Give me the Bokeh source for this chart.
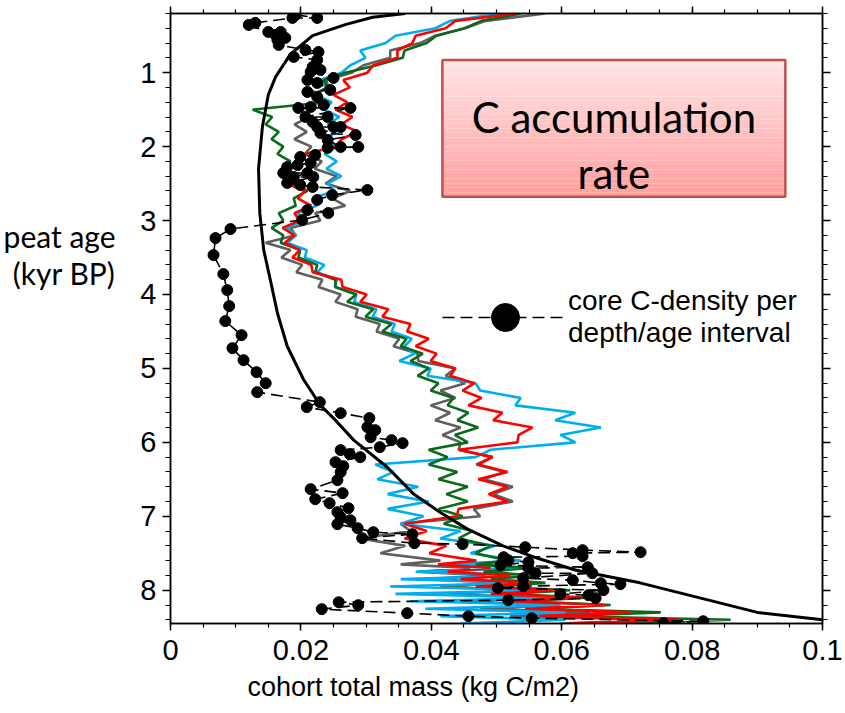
from bokeh.plotting import figure
from bokeh.models import (Range1d, LinearAxis, FixedTicker, Label, BoxAnnotation,
                          Legend, LegendItem, CustomJSTickFormatter, Title)
from bokeh.embed import file_html
from bokeh.resources import INLINE

# ---------------- data ----------------
# peat age (kyr BP) shared by the four modelled series
age = [0.2, 0.3, 0.4, 0.5, 0.6, 0.7, 0.8, 0.9,
       1.0, 1.1, 1.2, 1.3, 1.4, 1.5, 1.6, 1.7, 1.8, 1.9,
       2.0, 2.1, 2.2, 2.3, 2.4, 2.5, 2.6, 2.7, 2.8, 2.9,
       3.0, 3.1, 3.2, 3.3, 3.4, 3.5, 3.6, 3.7, 3.8, 3.9,
       4.0, 4.1, 4.2, 4.3, 4.4, 4.5, 4.6, 4.7, 4.8, 4.9,
       5.0, 5.1, 5.2, 5.3, 5.4, 5.5, 5.6, 5.7, 5.8, 5.9,
       6.0, 6.1, 6.2, 6.3, 6.4, 6.5, 6.6, 6.7, 6.8, 6.9,
       7.0, 7.1, 7.2, 7.3, 7.4, 7.5, 7.6,
       7.65, 7.7, 7.75, 7.8, 7.85, 7.9, 7.95, 8.0, 8.05, 8.1, 8.15, 8.2, 8.25, 8.3, 8.35, 8.4, 8.45]

gray_mass = [0.0575, 0.0483, 0.0452, 0.0406, 0.0383, 0.0337, 0.0337, 0.0296,
             0.0278, 0.0239, 0.0242, 0.0216, 0.0227, 0.0201, 0.0213, 0.0190, 0.0209, 0.0190,
             0.0216, 0.0206, 0.0232, 0.0221, 0.0255, 0.0238, 0.0276, 0.0248, 0.0268, 0.0222,
             0.0230, 0.0184, 0.0192, 0.0146, 0.0184, 0.0170, 0.0202, 0.0193, 0.0233, 0.0227,
             0.0261, 0.0253, 0.0287, 0.0284, 0.0321, 0.0316, 0.0351, 0.0342, 0.0379, 0.0380,
             0.0437, 0.0422, 0.0452, 0.0414, 0.0437, 0.0399, 0.0429, 0.0406, 0.0445, 0.0417,
             0.0445, 0.0442, 0.0494, 0.0469, 0.0512, 0.0480, 0.0525, 0.0495, 0.0525, 0.0465,
             0.0475, 0.0353, 0.0368, 0.0291, 0.0360, 0.0322, 0.0414,
             0.0353, 0.0460, 0.0380, 0.0483, 0.0394, 0.0514, 0.0414, 0.0537, 0.0426, 0.0560,
             0.0448, 0.0590, 0.0475, 0.0644, 0.0521, 0.0736, 0.0598]

cyan_mass = [0.0506, 0.0429, 0.0406, 0.0345, 0.0330, 0.0291, 0.0299, 0.0276,
             0.0262, 0.0229, 0.0239, 0.0224, 0.0247, 0.0236, 0.0259, 0.0241, 0.0255, 0.0236,
             0.0255, 0.0236, 0.0255, 0.0239, 0.0262, 0.0241, 0.0252, 0.0218, 0.0224, 0.0195,
             0.0204, 0.0178, 0.0193, 0.0179, 0.0209, 0.0206, 0.0236, 0.0225, 0.0255, 0.0252,
             0.0285, 0.0282, 0.0316, 0.0310, 0.0344, 0.0339, 0.0370, 0.0359, 0.0374, 0.0351,
             0.0399, 0.0394, 0.0468, 0.0475, 0.0537, 0.0529, 0.0621, 0.0590, 0.0660, 0.0598,
             0.0621, 0.0491, 0.0468, 0.0314, 0.0342, 0.0317, 0.0380, 0.0333, 0.0396, 0.0333,
             0.0388, 0.0353, 0.0445, 0.0414, 0.0498, 0.0460, 0.0537,
             0.0422, 0.0560, 0.0376, 0.0552, 0.0353, 0.0552, 0.0337, 0.0567, 0.0345, 0.0583,
             0.0368, 0.0598, 0.0391, 0.0606, 0.0414, 0.0606, 0.0445]

green_mass = [0.0538, 0.0477, 0.0451, 0.0408, 0.0393, 0.0359, 0.0356, 0.0316,
              0.0268, 0.0235, 0.0241, 0.0219, 0.0238, 0.0126, 0.0156, 0.0146, 0.0166, 0.0155,
              0.0173, 0.0164, 0.0184, 0.0173, 0.0195, 0.0189, 0.0210, 0.0189, 0.0192, 0.0166,
              0.0173, 0.0155, 0.0173, 0.0169, 0.0199, 0.0196, 0.0225, 0.0222, 0.0253, 0.0253,
              0.0285, 0.0271, 0.0311, 0.0299, 0.0339, 0.0325, 0.0362, 0.0353, 0.0387, 0.0368,
              0.0396, 0.0379, 0.0411, 0.0399, 0.0434, 0.0425, 0.0457, 0.0440, 0.0472, 0.0436,
              0.0456, 0.0396, 0.0425, 0.0396, 0.0440, 0.0411, 0.0456, 0.0423, 0.0456, 0.0411,
              0.0448, 0.0419, 0.0463, 0.0442, 0.0491, 0.0468, 0.0517,
              0.0468, 0.0552, 0.0480, 0.0560, 0.0491, 0.0575, 0.0495, 0.0613, 0.0517, 0.0637,
              0.0544, 0.0675, 0.0560, 0.0752, 0.0598, 0.0859, 0.0690]

red_mass = [0.0529, 0.0437, 0.0422, 0.0376, 0.0371, 0.0348, 0.0348, 0.0311,
            0.0302, 0.0265, 0.0275, 0.0250, 0.0271, 0.0253, 0.0279, 0.0262, 0.0287, 0.0262,
            0.0255, 0.0206, 0.0201, 0.0175, 0.0193, 0.0178, 0.0206, 0.0195, 0.0216, 0.0190,
            0.0198, 0.0172, 0.0190, 0.0175, 0.0198, 0.0187, 0.0216, 0.0218, 0.0262, 0.0264,
            0.0301, 0.0291, 0.0334, 0.0325, 0.0368, 0.0363, 0.0396, 0.0376, 0.0408, 0.0399,
            0.0437, 0.0429, 0.0466, 0.0448, 0.0477, 0.0457, 0.0509, 0.0495, 0.0555, 0.0534,
            0.0532, 0.0442, 0.0494, 0.0472, 0.0517, 0.0472, 0.0517, 0.0488, 0.0517, 0.0442,
            0.0439, 0.0359, 0.0393, 0.0359, 0.0423, 0.0397, 0.0469,
            0.0410, 0.0491, 0.0425, 0.0521, 0.0445, 0.0552, 0.0468, 0.0590, 0.0491, 0.0629,
            0.0521, 0.0667, 0.0544, 0.0706, 0.0567, 0.0782, 0.0613]

# smooth black curve
curve_age = [0.2, 0.25, 0.35, 0.5, 0.75, 1.06, 1.3, 1.73, 2.3, 2.9, 3.4, 3.8, 4.25, 4.7,
             5.15, 5.5, 5.7, 5.97, 6.34, 6.7, 6.95, 7.17, 7.4, 7.55, 7.73, 7.9, 8.13, 8.3, 8.4]
curve_mass = [0.0360, 0.0310, 0.0268, 0.0218, 0.0184, 0.0161, 0.0150, 0.0141, 0.0135, 0.0137,
              0.0143, 0.0153, 0.0164, 0.0179, 0.0204, 0.0230, 0.0253, 0.0281, 0.0333, 0.0373,
              0.0414, 0.0455, 0.0510, 0.0557, 0.0622, 0.0720, 0.0824, 0.0900, 0.1000]

# core C-density per depth/age interval (black dots)
core_age = [0.219, 0.260, 0.260, 0.327, 0.354, 0.449, 0.449, 0.490, 0.530, 0.557,
            0.625, 0.693, 0.720, 0.787, 0.828, 0.923, 0.963, 0.990, 1.071, 1.098,
            1.139, 1.234, 1.261, 1.329, 1.437, 1.464, 1.477, 1.477, 1.599, 1.599,
            1.667, 1.735, 1.735, 1.735, 1.816, 1.843, 1.910, 2.005, 2.005, 2.018,
            2.113, 2.140, 2.222, 2.249, 2.276, 2.357, 2.357, 2.411, 2.411, 2.492,
            2.519, 2.546, 2.587, 2.655, 2.722, 2.858, 2.898, 2.993, 3.115, 3.237,
            3.467, 3.724, 3.941, 4.157, 4.360, 4.550, 4.726, 4.888, 5.051, 5.200,
            5.321, 5.456, 5.523, 5.605, 5.672, 5.794, 5.835, 5.930, 5.970, 6.011,
            6.065, 6.105, 6.159, 6.200, 6.268, 6.322, 6.403, 6.511, 6.633, 6.687,
            6.768, 6.822, 6.890, 6.944, 7.012, 7.053, 7.107, 7.161, 7.215, 7.242,
            7.296, 7.364, 7.377, 7.418, 7.458, 7.485, 7.499, 7.539, 7.553, 7.594,
            7.621, 7.662, 7.689, 7.702, 7.770, 7.770, 7.837, 7.864, 7.905, 7.918,
            7.945, 7.972, 7.999, 8.053, 8.067, 8.107, 8.134, 8.162, 8.202, 8.256,
            8.310, 8.351, 8.378, 8.419, 8.446]
core_mass = [0.0192, 0.0225, 0.0187, 0.0130, 0.0120, 0.0150, 0.0169, 0.0161, 0.0176, 0.0164,
             0.0166, 0.0207, 0.0227, 0.0189, 0.0225, 0.0218, 0.0230, 0.0215, 0.0250, 0.0210,
             0.0225, 0.0245, 0.0210, 0.0225, 0.0235, 0.0215, 0.0196, 0.0276, 0.0207, 0.0241,
             0.0218, 0.0225, 0.0250, 0.0261, 0.0230, 0.0284, 0.0241, 0.0261, 0.0288, 0.0241,
             0.0222, 0.0199, 0.0215, 0.0195, 0.0179, 0.0173, 0.0210, 0.0189, 0.0219, 0.0179,
             0.0199, 0.0218, 0.0302, 0.0248, 0.0225, 0.0210, 0.0242, 0.0202, 0.0092, 0.0069,
             0.0066, 0.0081, 0.0087, 0.0090, 0.0084, 0.0109, 0.0095, 0.0112, 0.0132, 0.0146,
             0.0133, 0.0229, 0.0209, 0.0261, 0.0305, 0.0302, 0.0314, 0.0307, 0.0339, 0.0356,
             0.0321, 0.0261, 0.0275, 0.0291, 0.0253, 0.0265, 0.0261, 0.0256, 0.0215, 0.0264,
             0.0222, 0.0244, 0.0273, 0.0256, 0.0261, 0.0276, 0.0256, 0.0287, 0.0311, 0.0371,
             0.0294, 0.0374, 0.0448, 0.0544, 0.0632, 0.0721, 0.0617, 0.0632, 0.0511, 0.0518,
             0.0549, 0.0506, 0.0640, 0.0549, 0.0560, 0.0647, 0.0541, 0.0617, 0.0660, 0.0690,
             0.0541, 0.0502, 0.0664, 0.0598, 0.0641, 0.0652, 0.0518, 0.0258, 0.0288, 0.0232,
             0.0363, 0.0457, 0.0554, 0.0817, 0.0756]

x_tick_values = [0, 0.02, 0.04, 0.06, 0.08, 0.1]
x_tick_labels = ["0", "0.02", "0.04", "0.06", "0.08", "0.1"]
y_tick_values = [1, 2, 3, 4, 5, 6, 7, 8]
y_tick_labels = ["1", "2", "3", "4", "5", "6", "7", "8"]
# the two lines of the (horizontal) y-axis title, placed at these ages
y_title_ages = [3.21, 3.71]
y_title_lines = ["peat age", "(kyr BP)"]

# ---------------- styling ----------------
ARIAL = "'Liberation Sans', Arial, sans-serif"
CAL = "Lato, 'Open Sans', sans-serif"

p = figure(width=845, height=713, output_backend="svg", toolbar_location=None,
           x_range=Range1d(0, 0.1), y_range=Range1d(8.45, 0.2),
           x_axis_location=None, y_axis_location=None,
           min_border_left=170, min_border_right=23, min_border_top=13,
           min_border_bottom=90, background_fill_color="white",
           border_fill_color="white")
p.grid.visible = False
p.outline_line_color = "black"
p.outline_line_width = 1.5

x_minor = [round(0.005 * i, 3) for i in range(21)]
y_minor = [round(0.2 * i, 1) for i in range(1, 43)]


def make_axis(ticks, minor, labels, show, tick_major, tick_minor):
    ax = LinearAxis(ticker=FixedTicker(ticks=ticks, minor_ticks=minor))
    ax.axis_line_color = "black"
    ax.axis_line_width = 1.5
    ax.major_tick_line_color = "black"
    ax.major_tick_line_width = 1.5
    ax.minor_tick_line_color = "black"
    ax.minor_tick_line_width = 1.2
    ax.major_tick_in = 0
    ax.minor_tick_in = 0
    ax.major_tick_out = tick_major
    ax.minor_tick_out = tick_minor
    if show:
        ax.major_label_overrides = dict(zip(ticks, labels))
        ax.major_label_text_font = ARIAL
        ax.major_label_text_font_size = "29px"
        ax.major_label_text_color = "black"
    else:
        ax.formatter = CustomJSTickFormatter(code="return ''")
        ax.major_label_text_font_size = "1px"
        ax.major_label_standoff = 0
    return ax


bottom = make_axis(x_tick_values, x_minor, x_tick_labels, True, 7, 4)
bottom.major_label_standoff = 9
top = make_axis(x_tick_values, x_minor, x_tick_labels, False, 7, 4)
left = make_axis(y_tick_values, y_minor, y_tick_labels, True, 8, 5)
left.major_label_standoff = 6
right = make_axis(y_tick_values, y_minor, y_tick_labels, False, 8, 5)
p.add_layout(bottom, "below")
p.add_layout(top, "above")
p.add_layout(left, "left")
p.add_layout(right, "right")

# horizontal two-line y-axis title, as an outer label-only axis
ytitle = LinearAxis(ticker=FixedTicker(ticks=y_title_ages, minor_ticks=[]))
ytitle.major_label_overrides = dict(zip(y_title_ages, y_title_lines))
ytitle.axis_line_color = None
ytitle.major_tick_line_color = None
ytitle.minor_tick_line_color = None
ytitle.major_tick_out = 0
ytitle.major_tick_in = 0
ytitle.major_label_standoff = 22
ytitle.major_label_text_font = CAL
ytitle.major_label_text_font_size = "30px"
ytitle.major_label_text_color = "black"
p.add_layout(ytitle, "left")

# x-axis title (offset to the left as in the reference)
p.add_layout(Title(text="cohort total mass (kg C/m2)", align="left", offset=77,
                   text_font=ARIAL, text_font_size="27px", text_font_style="normal",
                   text_color="black", standoff=15), "below")

# ---- text box with gradient ----
box_left, box_right, box_top, box_bottom = 0.0417, 0.0943, 0.828, 2.68
nb = 30
c0, c1 = (255, 228, 228), (255, 160, 160)
for i in range(nb):
    f = i / (nb - 1)
    col = "#%02x%02x%02x" % tuple(int(round(a + (b - a) * f)) for a, b in zip(c0, c1))
    y0 = box_top + (box_bottom - box_top) * i / nb
    y1 = box_top + (box_bottom - box_top) * (i + 1) / nb
    p.add_layout(BoxAnnotation(left=box_left, right=box_right, top=y0, bottom=y1,
                               fill_color=col, fill_alpha=1.0, line_color=None,
                               level="underlay"))
p.add_layout(BoxAnnotation(left=box_left, right=box_right, top=box_top, bottom=box_bottom,
                           fill_color=None, fill_alpha=0, line_color="#C0504D",
                           line_width=2.5, line_alpha=1.0, level="underlay"))
p.add_layout(Label(x=0.0680, y=1.60, text="C accumulation", text_align="center",
                   text_baseline="alphabetic", text_font=CAL, text_font_size="42px",
                   text_color="black"))
p.add_layout(Label(x=0.0680, y=2.357, text="rate", text_align="center",
                   text_baseline="alphabetic", text_font=CAL, text_font_size="42px",
                   text_color="black"))

# ---- series ----
p.line(gray_mass, age, line_color="#5f5f5f", line_width=2.6)
p.line(cyan_mass, age, line_color="#00aeef", line_width=2.6)
p.line(green_mass, age, line_color="#0a6a1a", line_width=2.6)
p.line(red_mass, age, line_color="#ff0000", line_width=2.6)
p.line(curve_mass, curve_age, line_color="black", line_width=3)
conn = p.line(core_mass, core_age, line_color="black", line_width=1.6, line_dash="12 6")
dots = p.scatter(core_mass, core_age, size=11, fill_color="black", line_color="black")

# ---- legend ----
legend = Legend(items=[LegendItem(label="core C-density per\ndepth/age interval",
                                  renderers=[conn, dots])],
                location=(272, 271), glyph_width=126, glyph_height=70,
                label_standoff=-3, padding=0, margin=0, spacing=0,
                border_line_color=None, background_fill_alpha=0,
                label_text_font=ARIAL, label_text_font_size="28px",
                label_text_line_height=1.15, label_text_color="black")
p.add_layout(legend)

open("out.html", "w").write(file_html(p, INLINE, title="C accumulation rate"))
